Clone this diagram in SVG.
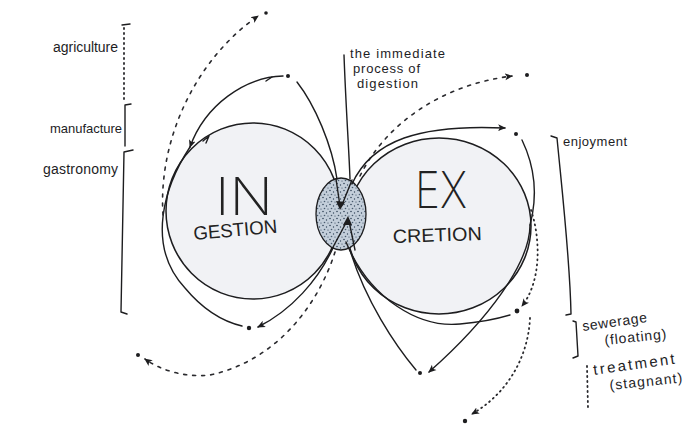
<svg xmlns="http://www.w3.org/2000/svg" width="685" height="429" viewBox="0 0 685 429">
<defs>
<style>
.ln{fill:none;stroke:#1d1d1f;stroke-width:1.4;stroke-linecap:round;stroke-linejoin:round}
.dash{fill:none;stroke:#2a2a2e;stroke-width:1.6;stroke-dasharray:3 6;stroke-linecap:round}
.dot{fill:none;stroke:#2a2a2e;stroke-width:1.8;stroke-dasharray:1 4;stroke-linecap:round}
.pt{fill:#1d1d1f}
.hand{font-family:"Liberation Sans","DejaVu Sans",sans-serif;fill:#1d1d1f}
.big{font-family:Inter,"DejaVu Sans",sans-serif;font-weight:200;fill:#222}
.cap{font-family:"Liberation Sans","DejaVu Sans",sans-serif;fill:#222}
.circ{fill:#f1f2f5;stroke:#1d1d1f;stroke-width:1.5}
</style>
<marker id="ah" viewBox="0 0 8 8" refX="7" refY="4" markerWidth="8" markerHeight="8" markerUnits="userSpaceOnUse" orient="auto">
<path d="M0,0.5 L8,4 L0,7.5 L2,4 Z" fill="#1d1d1f"/>
</marker>
<pattern id="stip" width="7" height="7" patternUnits="userSpaceOnUse">
<rect width="7" height="7" fill="#c3ceda"/>
<circle cx="1" cy="1.5" r="0.8" fill="#34465a"/>
<circle cx="4.5" cy="3" r="0.7" fill="#34465a"/>
<circle cx="2.5" cy="5.5" r="0.8" fill="#4a5c70"/>
<circle cx="6" cy="6" r="0.6" fill="#34465a"/>
</pattern>
</defs>
<rect width="685" height="429" fill="#ffffff"/>

<g id="node-in">
<ellipse class="circ" cx="253" cy="211" rx="87" ry="88"/>
<text class="big" x="215" y="215" font-size="52" textLength="58" lengthAdjust="spacingAndGlyphs">IN</text>
<text class="cap" x="194" y="240" font-size="19" textLength="84" lengthAdjust="spacingAndGlyphs" transform="rotate(-5 194 240)">GESTION</text>
</g>

<g id="node-ex">
<ellipse class="circ" cx="439" cy="226" rx="92" ry="88"/>
<text class="big" x="415" y="208" font-size="50" textLength="52" lengthAdjust="spacingAndGlyphs">EX</text>
<text class="cap" x="393" y="243" font-size="19" textLength="89" lengthAdjust="spacingAndGlyphs" transform="rotate(-2 393 243)">CRETION</text>
</g>

<g id="node-digestion">
<ellipse cx="341" cy="214" rx="25" ry="36" fill="url(#stip)" stroke="#1d1d1f" stroke-width="1.3"/>
<path class="ln" d="M336,179 L340,206 M352,180 L342,205" />
<path class="ln" d="M332,249 L347,221 M355,250 L349,221"/>
<path d="M336,201 L340,210 L345,202 Z" fill="#1d1d1f"/>
<path d="M343,225 L348,216 L352,225 Z" fill="#1d1d1f"/>
<text class="hand" x="350" y="58" font-size="13" textLength="95" lengthAdjust="spacing">the immediate</text>
<text class="hand" x="353" y="73" font-size="13" textLength="67" lengthAdjust="spacing">process of</text>
<text class="hand" x="357" y="88" font-size="13" textLength="61" lengthAdjust="spacing">digestion</text>
</g>

<g id="connectors">
<path class="ln" d="M344,55 C346,110 349,150 350,179"/>
<path class="ln" d="M297,82 C315,105 332,145 337,179"/>
<circle class="pt" cx="288" cy="76" r="2"/>
<path class="ln" marker-end="url(#ah)" d="M283,76 C245,77 205,105 190,147"/>
<path class="ln" d="M190,147 C165,185 145,245 185,288 C205,312 225,322 242,326"/>
<path class="ln" d="M272,77 L266,81"/>
<path class="ln" d="M203,141 L209,136 L206,143"/>
<path class="ln" marker-end="url(#ah)" d="M333,248 C318,280 292,310 258,327"/>
<circle class="pt" cx="249" cy="328" r="2.2"/>
<path class="dash" marker-end="url(#ah)" d="M163,215 C158,140 195,60 258,16"/>
<circle class="pt" cx="266" cy="13" r="1.8"/>
<path class="dash" marker-end="url(#ah)" d="M335,252 C320,300 280,360 210,375 C185,378 160,370 145,359"/>
<circle class="pt" cx="138" cy="355" r="2"/>
<path class="dash" marker-end="url(#ah)" d="M360,176 C385,125 440,85 512,76"/>
<circle class="pt" cx="527" cy="75" r="2"/>
<path class="ln" marker-end="url(#ah)" d="M352,184 C372,140 420,124 505,128"/>
<circle class="pt" cx="516" cy="134" r="2"/>
<path class="ln" d="M522,140 C534,165 538,195 530,225"/>
<path class="ln" marker-end="url(#ah)" d="M530,225 C530,262 490,318 429,372"/>
<circle class="pt" cx="420" cy="373" r="2"/>
<path class="ln" d="M350,250 C365,300 395,345 416,370"/>
<path class="ln" d="M346,242 C370,300 420,328 460,324 C485,322 500,318 510,315"/>
<path class="dot" marker-end="url(#ah)" d="M531,210 C541,240 541,282 522,306"/>
<circle class="pt" cx="517" cy="311" r="2.4"/>
<path class="dot" marker-end="url(#ah)" d="M530,318 C528,360 505,395 472,414"/>
<circle class="pt" cx="465" cy="421" r="2.2"/>
</g>

<g id="labels-left">
<text class="hand" x="53" y="52" font-size="14" textLength="65" lengthAdjust="spacing">agriculture</text>
<path class="dot" d="M124,28 L124,103"/>
<path class="ln" d="M122,25 L130,24"/>
<text class="hand" x="50" y="133" font-size="13" textLength="72" lengthAdjust="spacing">manufacture</text>
<path class="ln" d="M131,104 L125,105 L125,146"/>
<text class="hand" x="43" y="174" font-size="14" textLength="75" lengthAdjust="spacing">gastronomy</text>
<path class="ln" d="M133,150 L124,152 L121,312 L127,314"/>
</g>

<g id="labels-right">
<text class="hand" x="563" y="146" font-size="13" textLength="64" lengthAdjust="spacing">enjoyment</text>
<path class="ln" d="M551,136 L557,138 C563,200 570,260 571,314 L566,315"/>
<text class="hand" x="583" y="331" font-size="14" textLength="65" lengthAdjust="spacing" transform="rotate(-8 583 331)">sewerage</text>
<text class="hand" x="605" y="345" font-size="14" textLength="62" lengthAdjust="spacing" transform="rotate(-6 605 345)">(floating)</text>
<path class="ln" d="M573,321 L576,322 L578,356 L573,358"/>
<text class="hand" x="594" y="375" font-size="15" textLength="82" lengthAdjust="spacing" transform="rotate(-8 594 375)">treatment</text>
<text class="hand" x="610" y="390" font-size="14" textLength="73" lengthAdjust="spacing" transform="rotate(-6 610 390)">(stagnant)</text>
<path class="dot" d="M587,366 L588,408"/>
</g>
</svg>
